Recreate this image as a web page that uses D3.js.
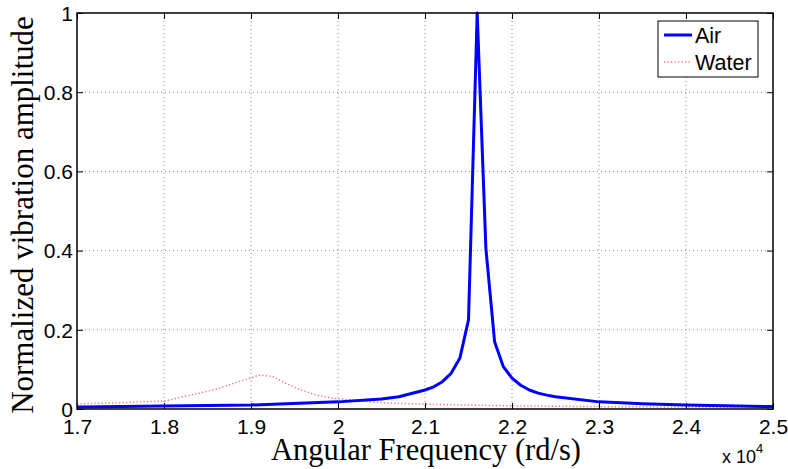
<!DOCTYPE html>
<html>
<head>
<meta charset="utf-8">
<script src="https://cdn.jsdelivr.net/npm/d3@7"></script>
<style>
  body { margin: 0; background: #fff; }
  svg { display: block; }
</style>
</head>
<body>
<div id="chart"></div>
<script>
// Air response (frequency in rad/s, normalized amplitude)
const airFreq = [17000, 18000, 19000, 20000, 20500, 20700, 21000, 21100, 21200, 21300, 21400, 21500, 21600,
                 21700, 21800, 21900, 22000, 22100, 22200, 22300, 22400, 22500, 23000, 23500, 24000, 25000];
const airAmp = [0.005, 0.0076, 0.010, 0.018, 0.025, 0.031, 0.048, 0.056, 0.069, 0.09, 0.128, 0.225, 1.0,
                0.405, 0.17, 0.107, 0.078, 0.06, 0.048, 0.04, 0.035, 0.031, 0.018, 0.013, 0.010, 0.006];

// Water response
const waterFreq = [17000, 17500, 18000, 18400, 18600, 18800, 18950, 19100, 19250, 19400, 19550, 19750, 19950,
                   20500, 21000, 22000, 23000, 24000, 25000];
const waterAmp = [0.013, 0.016, 0.020, 0.040, 0.050, 0.065, 0.075, 0.086, 0.082, 0.065, 0.050, 0.035, 0.027,
                  0.016, 0.012, 0.008, 0.006, 0.005, 0.004];

const xTicks = [17000, 18000, 19000, 20000, 21000, 22000, 23000, 24000, 25000];
const yTicks = [0, 0.2, 0.4, 0.6, 0.8, 1];

const width = 788;
const height = 469;
const margin = { left: 77, right: 15, top: 13, bottom: 60 };
const plotW = width - margin.left - margin.right;
const plotH = height - margin.top - margin.bottom;

const sans = 'Liberation Sans, Arial, sans-serif';
const serif = 'Liberation Serif, Times New Roman, serif';

const svg = d3.select('#chart')
    .append('svg')
    .attr('width', width)
    .attr('height', height);

const x = d3.scaleLinear().domain([17000, 25000]).range([0, plotW]);
const y = d3.scaleLinear().domain([0, 1]).range([plotH, 0]);

const g = svg.append('g')
    .attr('transform', `translate(${margin.left},${margin.top})`);

// Grid lines
g.append('g')
    .selectAll('line')
    .data(xTicks.slice(1, -1))
    .join('line')
    .attr('x1', d => x(d)).attr('x2', d => x(d))
    .attr('y1', 0).attr('y2', plotH)
    .attr('stroke', '#888')
    .attr('stroke-width', 1)
    .attr('stroke-dasharray', '1,3');

g.append('g')
    .selectAll('line')
    .data(yTicks.slice(1, -1))
    .join('line')
    .attr('y1', d => y(d)).attr('y2', d => y(d))
    .attr('x1', 0).attr('x2', plotW)
    .attr('stroke', '#888')
    .attr('stroke-width', 1)
    .attr('stroke-dasharray', '1,3');

// Axes with inward ticks
const xAxis = d3.axisBottom(x).tickValues(xTicks).tickSizeInner(-6).tickSizeOuter(0)
    .tickFormat(d => d3.format('')(+(d / 10000).toFixed(1)));
const yAxis = d3.axisLeft(y).tickValues(yTicks).tickSizeInner(-6).tickSizeOuter(0)
    .tickFormat(d => d3.format('')(+d.toFixed(1)));

const xAxisG = g.append('g')
    .attr('transform', `translate(0,${plotH})`)
    .call(xAxis);
const yAxisG = g.append('g').call(yAxis);

// Top and right ticks (no labels)
g.append('g').call(d3.axisTop(x).tickValues(xTicks).tickSizeInner(-6).tickSizeOuter(0).tickFormat(''));
g.append('g').attr('transform', `translate(${plotW},0)`)
    .call(d3.axisRight(y).tickValues(yTicks).tickSizeInner(-6).tickSizeOuter(0).tickFormat(''));

svg.selectAll('.domain').remove();
svg.selectAll('.tick line').attr('stroke', '#000').attr('stroke-width', 1);

xAxisG.selectAll('text')
    .attr('y', 10)
    .attr('dy', '0.71em')
    .style('font-family', sans)
    .style('font-size', '21px')
    .attr('fill', '#000');
yAxisG.selectAll('text')
    .attr('x', -4)
    .attr('dy', '0.35em')
    .style('font-family', sans)
    .style('font-size', '21px')
    .attr('fill', '#000');

// Water curve (red dotted)
const waterData = waterFreq.map((f, i) => ({ f, a: waterAmp[i] }));
const airData = airFreq.map((f, i) => ({ f, a: airAmp[i] }));

const line = d3.line().x(d => x(d.f)).y(d => y(d.a));

g.append('path')
    .datum(waterData)
    .attr('d', line)
    .attr('fill', 'none')
    .attr('stroke', '#ff5555')
    .attr('stroke-opacity', 0.85)
    .attr('stroke-width', 1.5)
    .attr('stroke-dasharray', '1.2,2.3');

g.append('path')
    .datum(airData)
    .attr('d', line)
    .attr('fill', 'none')
    .attr('stroke', '#0000ff')
    .attr('stroke-width', 3)
    .attr('stroke-linejoin', 'round');

// Box
g.append('rect')
    .attr('width', plotW)
    .attr('height', plotH)
    .attr('fill', 'none')
    .attr('stroke', '#000')
    .attr('stroke-width', 1.5);

// Legend
const legend = svg.append('g').attr('transform', 'translate(658,21)');
legend.append('rect')
    .attr('width', 100)
    .attr('height', 56)
    .attr('fill', '#fff')
    .attr('stroke', '#000')
    .attr('stroke-width', 1);

const legendItems = [
    { label: 'Air', color: '#0000ff', width: 3, dash: null, opacity: 1 },
    { label: 'Water', color: '#ff5555', width: 1.5, dash: '1.2,2.3', opacity: 0.85 }
];

const item = legend.selectAll('.legend-item')
    .data(legendItems)
    .join('g')
    .attr('class', 'legend-item')
    .attr('transform', (d, i) => `translate(0,${14 + i * 27})`);

item.append('line')
    .attr('x1', 6).attr('x2', 34)
    .attr('stroke', d => d.color)
    .attr('stroke-width', d => d.width)
    .attr('stroke-opacity', d => d.opacity)
    .attr('stroke-dasharray', d => d.dash);

item.append('text')
    .attr('x', 37)
    .attr('dy', '0.36em')
    .style('font-family', sans)
    .style('font-size', '21.5px')
    .text(d => d.label);

// Axis labels
svg.append('text')
    .attr('x', 426)
    .attr('y', 460)
    .attr('text-anchor', 'middle')
    .style('font-family', serif)
    .style('font-size', '30.5px')
    .text('Angular Frequency (rd/s)');

svg.append('text')
    .attr('transform', `translate(33,215) rotate(-90)`)
    .attr('text-anchor', 'middle')
    .style('font-family', serif)
    .style('font-size', '31px')
    .text('Normalized vibration amplitude');

// Exponent label
const expo = svg.append('text')
    .attr('x', 722)
    .attr('y', 463)
    .style('font-family', sans)
    .style('font-size', '18px');
expo.append('tspan').text('x 10');
expo.append('tspan').attr('dy', -10).style('font-size', '13px').text('4');
</script>
</body>
</html>
